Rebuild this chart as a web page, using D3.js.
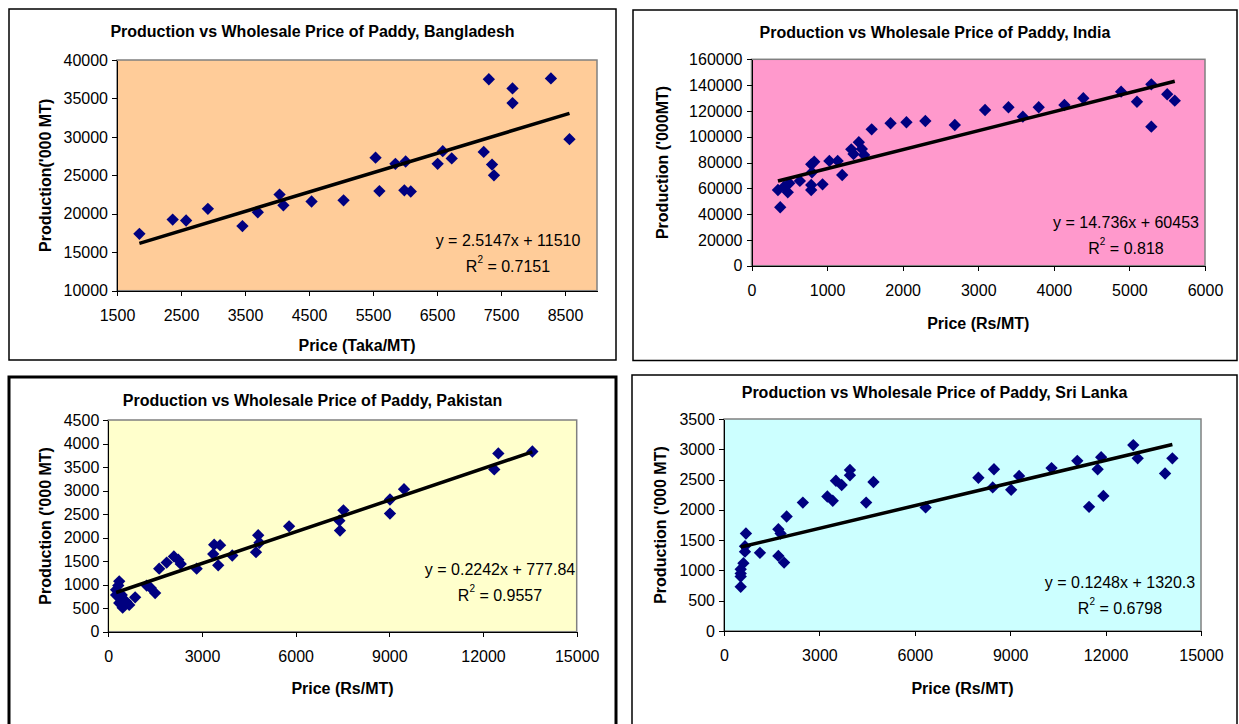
<!DOCTYPE html>
<html lang="en">
<head>
<meta charset="utf-8">
<title>Production vs Wholesale Price of Paddy</title>
<script src="https://cdn.jsdelivr.net/npm/d3@7"></script>
<style>
  body { margin: 0; background: #fff; }
  svg text { font-family: Arial, "Liberation Sans", sans-serif; fill: #000; }
  .axis path, .axis line { stroke: #000; shape-rendering: crispEdges; }
  .axis text { font-size: 16px; }
</style>
</head>
<body>
<script>
// ---- data ----
var bdPrice = [1850, 2370, 2580, 2920, 3460, 3700, 4040, 4100, 4540, 5040, 5540, 5600, 5850, 6010, 5990, 6090, 6510, 6590, 6730, 7230, 7310, 7360, 7390, 7680, 7680, 8280, 8570];
var bdProd  = [17400, 19250, 19130, 20650, 18400, 20200, 22500, 21100, 21600, 21750, 27300, 22950, 26500, 26800, 23050, 22900, 26500, 28150, 27200, 28050, 37500, 26400, 25000, 36300, 34400, 37600, 29700];

var inPrice = [350, 380, 480, 500, 430, 640, 790, 790, 800, 830, 790, 940, 1030, 1140, 1200, 1320, 1350, 1420, 1460, 1490, 1590, 1840, 2050, 2300, 2690, 3090, 3400, 3590, 3800, 4140, 4390, 4890, 5100, 5290, 5290, 5500, 5600];
var inProd  = [58700, 45300, 56900, 63900, 61200, 65700, 58700, 62600, 72400, 80600, 78600, 63100, 81200, 81200, 70300, 90200, 86600, 95700, 90500, 85800, 105700, 110400, 111200, 112200, 109100, 120700, 122800, 115500, 122800, 124600, 129800, 134900, 127100, 140600, 107800, 132900, 127900];

var pkPrice = [250, 350, 320, 250, 350, 460, 570, 670, 860, 430, 1230, 1360, 1500, 1630, 1870, 2100, 2240, 2320, 2830, 3390, 3360, 3520, 3580, 3970, 4730, 4800, 4840, 5790, 7400, 7420, 7530, 9020, 9020, 9470, 12360, 12490, 13580];
var pkProd  = [890, 1070, 980, 780, 610, 510, 640, 570, 730, 780, 980, 930, 820, 1340, 1470, 1600, 1530, 1440, 1340, 1850, 1650, 1410, 1840, 1620, 1690, 2050, 1890, 2240, 2360, 2150, 2580, 2810, 2510, 3030, 3450, 3790, 3830];

var slPrice = [525, 525, 525, 525, 610, 660, 660, 690, 1130, 1710, 1780, 1710, 1890, 1970, 2480, 3250, 3420, 3520, 3700, 3960, 3960, 4470, 4700, 6340, 8000, 8450, 8490, 9030, 9280, 10300, 11110, 11480, 11750, 11860, 11930, 12870, 13010, 13870, 14100];
var slProd  = [730, 900, 950, 1020, 1120, 1310, 1400, 1610, 1290, 1680, 1610, 1240, 1130, 1890, 2120, 2220, 2150, 2480, 2410, 2660, 2570, 2120, 2460, 2040, 2530, 2370, 2670, 2330, 2560, 2690, 2810, 2050, 2670, 2870, 2230, 3070, 2850, 2600, 2850];

// trend lines as printed on the charts
var slopes     = [2.5147, 14.736, 0.2242, 0.1248];
var intercepts = [11510, 60453, 777.84, 1320.3];
var eqTexts    = ["y = 2.5147x + 11510", "y = 14.736x + 60453", "y = 0.2242x + 777.84", "y = 0.1248x + 1320.3"];
var r2Texts    = [" = 0.7151", " = 0.818", " = 0.9557", " = 0.6798"];

// axis ranges and tick labels
var bdXDomain = [1500, 9000], inXDomain = [0, 6000], pkXDomain = [0, 15000], slXDomain = [0, 15000];
var bdXTicks = [1500, 2500, 3500, 4500, 5500, 6500, 7500, 8500];
var bdYTicks = [10000, 15000, 20000, 25000, 30000, 35000, 40000];
var inXTicks = [0, 1000, 2000, 3000, 4000, 5000, 6000];
var inYTicks = [0, 20000, 40000, 60000, 80000, 100000, 120000, 140000, 160000];
var pkXTicks = [0, 3000, 6000, 9000, 12000, 15000];
var pkYTicks = [0, 500, 1000, 1500, 2000, 2500, 3000, 3500, 4000, 4500];
var slXTicks = [0, 3000, 6000, 9000, 12000, 15000];
var slYTicks = [0, 500, 1000, 1500, 2000, 2500, 3000, 3500];

var titles  = ["Production vs Wholesale Price of Paddy, Bangladesh", "Production vs Wholesale Price of Paddy, India",
               "Production vs Wholesale Price of Paddy, Pakistan", "Production vs Wholesale Price of Paddy, Sri Lanka"];
var xTitles = ["Price (Taka/MT)", "Price (Rs/MT)", "Price (Rs/MT)", "Price (Rs/MT)"];
var yTitles = ["Production('000 MT)", "Production ('000MT)", "Production ('000 MT)", "Production ('000 MT)"];

var W = 1239, H = 724;
var svg = d3.select("body").append("svg").attr("width", W).attr("height", H);

// layout of each chart object (box, plot area, text positions)
var panels = [
  { price: bdPrice, prod: bdProd, xd: bdXDomain, xt: bdXTicks, yt: bdYTicks, bg: "#ffcc99",
    box: [9, 9, 616, 360], bw: 1.5, plot: [117, 60, 597, 290.7], ty: 31, xty: 345, ytx: 45, eq: [508, 240] },
  { price: inPrice, prod: inProd, xd: inXDomain, xt: inXTicks, yt: inYTicks, bg: "#ff99cc",
    box: [633, 10, 1237, 360.5], bw: 1.5, plot: [751.5, 59.3, 1205, 265.7], ty: 32, xty: 323, ytx: 662, eq: [1126, 222] },
  { price: pkPrice, prod: pkProd, xd: pkXDomain, xt: pkXTicks, yt: pkYTicks, bg: "#ffffcc",
    box: [9, 377, 616, 740], bw: 3, plot: [108.3, 420, 576.7, 631.7], ty: 400, xty: 688, ytx: 45, eq: [500, 569] },
  { price: slPrice, prod: slProd, xd: slXDomain, xt: slXTicks, yt: slYTicks, bg: "#ccffff",
    box: [632, 375, 1237, 740], bw: 1.5, plot: [724, 419, 1201, 631], ty: 392, xty: 688, ytx: 660, eq: [1120, 582] }
];

panels.forEach(function(p, i) {
  var g = svg.append("g");
  var x0 = p.plot[0], y0 = p.plot[1], x1 = p.plot[2], y1 = p.plot[3];

  // outer chart border
  g.append("rect")
    .attr("x", p.box[0]).attr("y", p.box[1])
    .attr("width", p.box[2] - p.box[0]).attr("height", p.box[3] - p.box[1])
    .attr("fill", "#fff").attr("stroke", "#000").attr("stroke-width", p.bw);

  var xScale = d3.scaleLinear().domain(p.xd).range([x0, x1]);
  var yScale = d3.scaleLinear().domain(d3.extent(p.yt)).range([y1, y0]);

  // plot area
  g.append("rect")
    .attr("x", x0).attr("y", y0).attr("width", x1 - x0).attr("height", y1 - y0)
    .attr("fill", p.bg).attr("stroke", "#808080").attr("stroke-width", 1.5);

  g.append("g").attr("class", "axis")
    .attr("transform", "translate(0," + y1 + ")")
    .call(d3.axisBottom(xScale).tickValues(p.xt).tickFormat(d3.format("d")).tickSizeInner(5).tickSizeOuter(0).tickPadding(14));
  g.append("g").attr("class", "axis")
    .attr("transform", "translate(" + x0 + ",0)")
    .call(d3.axisLeft(yScale).tickValues(p.yt).tickFormat(d3.format("d")).tickSizeInner(5).tickSizeOuter(0).tickPadding(4));

  // markers
  var pts = p.price.map(function(d, j) { return [d, p.prod[j]]; });
  g.selectAll("path.pt").data(pts).enter().append("path")
    .attr("class", "pt")
    .attr("d", d3.symbol(d3.symbolSquare, 76))
    .attr("transform", function(d) { return "translate(" + xScale(d[0]) + "," + yScale(d[1]) + ") rotate(45)"; })
    .attr("fill", "#000080");

  // linear trend line across the data range
  var xr = d3.extent(p.price);
  var line = d3.line().x(function(d) { return xScale(d); }).y(function(d) { return yScale(slopes[i] * d + intercepts[i]); });
  g.append("path").datum(xr).attr("d", line)
    .attr("fill", "none").attr("stroke", "#000").attr("stroke-width", 3.5);

  // equation + R²
  g.append("text").attr("x", p.eq[0]).attr("y", p.eq[1])
    .attr("text-anchor", "middle").attr("dominant-baseline", "central")
    .attr("font-size", "16px").text(eqTexts[i]);
  var r2 = g.append("text").attr("x", p.eq[0]).attr("y", p.eq[1] + 26)
    .attr("text-anchor", "middle").attr("dominant-baseline", "central")
    .attr("font-size", "16px");
  r2.append("tspan").text("R");
  r2.append("tspan").attr("font-size", "10px").attr("dy", -7).text("2");
  r2.append("tspan").attr("dy", 7).text(r2Texts[i]);

  // titles
  g.append("text").attr("x", (p.box[0] + p.box[2]) / 2).attr("y", p.ty)
    .attr("text-anchor", "middle").attr("dominant-baseline", "central")
    .attr("font-size", "16px").attr("font-weight", "bold").text(titles[i]);
  g.append("text").attr("x", (x0 + x1) / 2).attr("y", p.xty)
    .attr("text-anchor", "middle").attr("dominant-baseline", "central")
    .attr("font-size", "16px").attr("font-weight", "bold").text(xTitles[i]);
  g.append("text")
    .attr("transform", "translate(" + p.ytx + "," + ((y0 + y1) / 2) + ") rotate(-90)")
    .attr("text-anchor", "middle").attr("dominant-baseline", "central")
    .attr("font-size", "16px").attr("font-weight", "bold").text(yTitles[i]);
});
</script>
</body>
</html>
